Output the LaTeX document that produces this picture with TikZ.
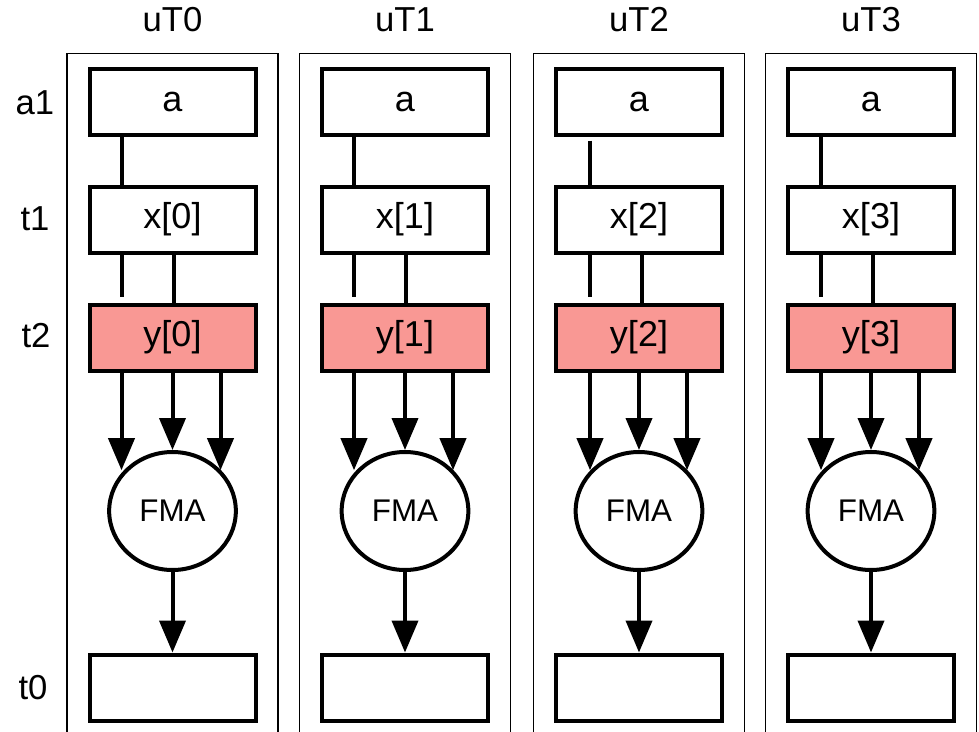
\documentclass[tikz,border=0pt]{standalone}
\usepackage{fontspec}
\setmainfont{Liberation Sans}
\usetikzlibrary{arrows.meta,shapes.geometric}
\definecolor{salmon}{RGB}{249,152,148}
\tikzset{
  lbl/.style={font=\fontsize{26}{29}\selectfont, inner sep=0pt},
  box/.style={draw, line width=3pt, minimum width=124.5pt, minimum height=49.5pt, inner sep=0pt, font=\fontsize{27}{30}\selectfont},
  hot/.style={box, fill=salmon},
  op/.style={draw, ellipse, line width=3pt, fill=white, minimum width=95pt, minimum height=88.5pt, inner sep=0pt, font=\fontsize{23.5}{26}\selectfont},
  lane/.style={line width=1.1pt},
  wire/.style={line width=3pt},
  arr/.style={line width=3pt, -{Triangle[length=24pt,width=19.5pt]}},
}
\begin{document}
\begin{tikzpicture}[x=0.75pt, y=-0.75pt]
\useasboundingbox (0,0) rectangle (979,732);
\clip (0,0) rectangle (979,732);
% row labels
\node[lbl] (ra1) at (35,103) {a1};
\node[lbl] (rt1) at (35,219) {t1};
\node[lbl] (rt2) at (36,336) {t2};
\node[lbl] (rt0) at (33,688) {t0};
\foreach \i/\c/\l/\m/\sa in {0/172.5/-51/1/0pt, 1/405/-51/1/0pt, 2/639/-49/3/3pt, 3/871/-50/2/0pt}{
  \node[lbl] (u\i) at (\c,20) {uT\i};
  \draw[lane] (\c-105.5,745) -- (\c-105.5,53.5) -- (\c+105.5,53.5) -- (\c+105.5,745);
  \node[box] (a\i) at (\c,101.5) {a};
  \node[box] (x\i) at (\c,219.5) {x[\i]};
  \node[hot] (y\i) at (\c,337.5) {y[\i]};
  \node[op]  (f\i) at (\c,511) {FMA};
  \node[box] (o\i) at (\c,687.5) {};
  \coordinate (L\i) at (\c+\l,0);
  \coordinate (M\i) at (\c+\m,0);
  \coordinate (R\i) at (\c+48,0);
  \draw[wire, shorten <=\sa] (a\i.south -| L\i) -- (x\i.north -| L\i);
  \draw[wire, shorten >=4.5pt] (x\i.south -| L\i) -- (y\i.north -| L\i);
  \draw[wire] (x\i.south -| M\i) -- (y\i.north -| M\i);
  \draw[arr] (y\i.south -| L\i) -- (f\i.140 -| L\i);
  \draw[arr] (y\i.south -| f\i) -- (f\i.north);
  \draw[arr] (y\i.south -| R\i) -- (f\i.40 -| R\i);
  \draw[arr] (f\i.south) -- (o\i.north);
}
\end{tikzpicture}
\end{document}
